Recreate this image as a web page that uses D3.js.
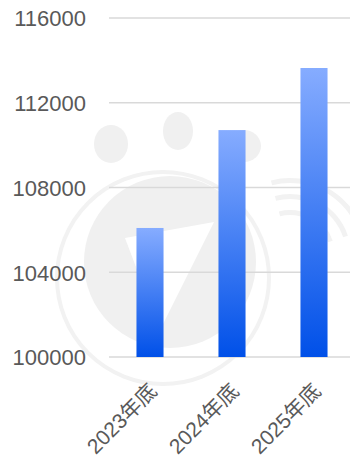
<!DOCTYPE html>
<html><head><meta charset="utf-8">
<script src="https://cdn.jsdelivr.net/npm/d3@7/dist/d3.min.js"></script>
<style>
html,body{margin:0;padding:0;background:#fff;}
svg{display:block;}
</style></head>
<body><svg id="chart" width="350" height="463"></svg>
<script>
const categories = ["2023年底", "2024年底", "2025年底"];
const values = [106090, 110710, 113640];
const yTicks = [100000, 104000, 108000, 112000, 116000];

const W = 350, H = 463;
const svg = d3.select("#chart");
const font = "'Liberation Sans','Noto Sans CJK SC',sans-serif";

// faint watermark (decorative background)
const wm = svg.append("g").attr("class", "watermark");
const wmFill = "#f0f0f0";
wm.append("circle").attr("cx", 163).attr("cy", 278).attr("r", 106)
  .attr("fill", "none").attr("stroke", "#f2f2f2").attr("stroke-width", 4);
wm.append("circle").attr("cx", 170).attr("cy", 262).attr("r", 86).attr("fill", wmFill);
wm.append("path").attr("d", "M125,238 L214,222 L160,330 Z").attr("fill", "#fff");
wm.append("ellipse").attr("cx", 111).attr("cy", 144).attr("rx", 17).attr("ry", 19).attr("fill", wmFill);
wm.append("ellipse").attr("cx", 178).attr("cy", 131).attr("rx", 15).attr("ry", 19).attr("fill", wmFill);
wm.append("ellipse").attr("cx", 244).attr("cy", 146).attr("rx", 17).attr("ry", 16).attr("fill", wmFill);
[0, 1, 2].forEach(i => {
  wm.append("path")
    .attr("d", d3.arc()({innerRadius: 40 + i * 16, outerRadius: 45 + i * 16, startAngle: -0.6, endAngle: 0.9}))
    .attr("transform", "translate(290,255) rotate(20)")
    .attr("fill", "#f2f2f2");
});

const y = d3.scaleLinear().domain([100000, 116000]).range([357, 18]);
const x = d3.scaleBand().domain(categories).range([109, 355]).paddingInner(0.67).paddingOuter(0.335);

// gridlines
svg.append("g").selectAll("line").data(yTicks).join("line")
  .attr("x1", 109).attr("x2", 350)
  .attr("y1", d => y(d)).attr("y2", d => y(d))
  .attr("stroke", "#d9d9d9").attr("stroke-width", 1.5);

// y axis labels
const yAxis = d3.axisLeft(y).tickValues(yTicks).tickSize(0).tickPadding(0).tickFormat(d3.format("d"));
const gy = svg.append("g").attr("transform", "translate(86,0)").call(yAxis);
gy.select(".domain").remove();
gy.selectAll("text").attr("font-family", font).attr("font-size", 22).attr("fill", "#595959").attr("dy", "0.36em");

// gradient
const defs = svg.append("defs");
const grad = defs.append("linearGradient").attr("id", "barGrad")
  .attr("x1", 0).attr("y1", 0).attr("x2", 0).attr("y2", 1);
grad.append("stop").attr("offset", "0%").attr("stop-color", "#86acff");
grad.append("stop").attr("offset", "100%").attr("stop-color", "#0050e8");

svg.append("g").selectAll("rect").data(values).join("rect")
  .attr("x", (d, i) => x(categories[i]))
  .attr("y", d => y(d))
  .attr("width", x.bandwidth())
  .attr("height", d => y(100000) - y(d))
  .attr("fill", "url(#barGrad)");

// x axis labels
const xAxis = d3.axisBottom(x).tickSize(0).tickPadding(0);
const gx = svg.append("g").attr("transform", "translate(0,357)").call(xAxis);
gx.select(".domain").remove();
gx.selectAll("text")
  .attr("font-family", font).attr("font-size", 21).attr("fill", "#595959")
  .attr("text-anchor", "end")
  .attr("dy", "0.7em")
  .attr("transform", "translate(-2,25) rotate(-45)");
</script></body></html>
